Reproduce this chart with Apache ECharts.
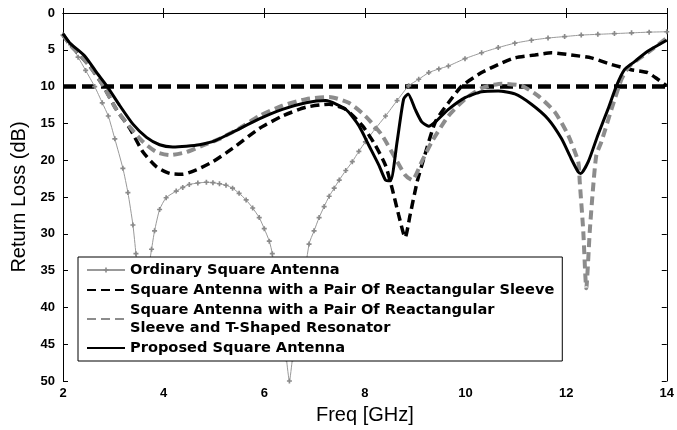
<!DOCTYPE html>
<html><head><meta charset="utf-8">
<script src="https://cdn.jsdelivr.net/npm/echarts@6/dist/echarts.min.js"></script>
<style>html,body{margin:0;padding:0;background:#fff}#c{width:677px;height:430px}</style>
</head><body><div id="c"></div>
<script>
const xTicks = [2, 4, 6, 8, 10, 12, 14];
const yTicks = [0, 5, 10, 15, 20, 25, 30, 35, 40, 45, 50];
const names = [
  'Ordinary Square Antenna',
  'Square Antenna with a Pair Of Reactangular Sleeve',
  'Square Antenna with a Pair Of Reactangular\nSleeve and T-Shaped Resonator',
  'Proposed Square Antenna'
];
const ordinary = [[2,3],[2.15,4.3],[2.3,6],[2.45,7.8],[2.63,10],[2.78,12.2],[2.9,14],[3.03,17.1],[3.19,21.1],[3.29,24.4],[3.39,28.8],[3.45,32.7],[3.57,40],[3.76,32.1],[3.82,29.6],[3.92,26.7],[4.05,25.1],[4.25,24.2],[4.38,23.7],[4.51,23.3],[4.68,23.1],[4.85,23.0],[4.98,23.05],[5.11,23.2],[5.24,23.4],[5.37,23.8],[5.5,24.5],[5.64,25.4],[5.77,26.5],[5.9,27.8],[6.0,29.3],[6.1,31],[6.16,32.7],[6.44,47],[6.5,50],[6.56,47],[6.89,31.4],[6.99,29.6],[7.09,27.8],[7.19,26.3],[7.29,24.9],[7.39,23.8],[7.49,22.7],[7.62,21.4],[7.75,20.2],[7.88,18.8],[8.01,17.5],[8.21,15.7],[8.41,14],[8.64,11.9],[8.87,9.9],[9.07,9.0],[9.27,8.1],[9.47,7.6],[9.66,7.2],[9.99,6.2],[10.32,5.4],[10.65,4.7],[10.98,4.1],[11.31,3.7],[11.64,3.4],[11.97,3.2],[12.3,3.0],[12.63,2.9],[12.96,2.8],[13.3,2.7],[13.65,2.6],[14,2.55]];
const sleeve = [[2,3],[2.14,4.3],[2.53,7.2],[2.8,9.9],[3.06,13.1],[3.33,15.7],[3.59,18.9],[3.86,20.9],[4.12,21.8],[4.38,21.9],[4.65,21.3],[4.98,20.2],[5.37,18.4],[5.9,15.7],[6.36,14.0],[6.83,12.8],[7.29,12.4],[7.62,13.1],[7.95,15.3],[8.21,18],[8.41,20.7],[8.54,23.8],[8.67,27.4],[8.8,30.5],[8.9,27.4],[9.04,22.9],[9.17,19.8],[9.4,14.8],[9.66,12.2],[9.93,9.9],[10.32,8.1],[10.65,7.0],[10.98,6.1],[11.38,5.7],[11.71,5.4],[12.1,5.7],[12.5,6.1],[12.9,7.0],[13.29,7.7],[13.62,8.1],[13.82,9.0],[14,9.9]];
const tshape = [[2,3],[2.14,4.3],[2.53,7.2],[2.8,9.9],[3.06,13.1],[3.33,15.5],[3.59,17.5],[3.86,18.9],[4.12,19.3],[4.45,18.9],[4.78,18],[5.11,17.1],[5.5,15.7],[5.9,14.0],[6.36,12.6],[6.83,11.7],[7.29,11.4],[7.68,12.2],[8.01,14],[8.34,16.6],[8.61,19.8],[8.8,22],[8.94,22.7],[9.13,20.2],[9.33,17.5],[9.66,14],[9.99,11.7],[10.32,10.2],[10.72,9.6],[11.12,9.9],[11.45,11.3],[11.78,13.5],[12.04,16.6],[12.24,20.2],[12.27,22.9],[12.34,29.6],[12.4,37.4],[12.47,29.6],[12.53,24.2],[12.6,19.3],[12.7,17.5],[12.9,13.1],[13.1,9.0],[13.26,7.2],[13.62,5.4],[14,3.4]];
const proposed = [[2,2.8],[2.14,4.1],[2.44,5.9],[2.67,8.1],[2.87,9.9],[3.13,12.6],[3.39,15.1],[3.66,16.9],[3.92,17.9],[4.18,18.2],[4.45,18.1],[4.71,17.9],[5.04,17.3],[5.37,16.2],[5.9,14.4],[6.36,13.1],[6.83,12.2],[7.22,11.9],[7.62,13.1],[7.88,15.3],[8.08,18],[8.28,20.7],[8.41,22.7],[8.51,22.8],[8.64,17.5],[8.77,11.7],[8.86,11.0],[9.0,13.1],[9.13,14.8],[9.27,15.4],[9.4,14.8],[9.66,13.1],[9.99,11.5],[10.32,10.7],[10.65,10.6],[10.98,11.0],[11.31,12.4],[11.64,14.4],[11.91,17.1],[12.1,19.8],[12.24,21.6],[12.29,21.8],[12.44,20.2],[12.63,16.6],[12.83,13.1],[13.0,9.9],[13.16,7.7],[13.36,6.6],[13.62,5.2],[14,3.7]];
const threshold = [[2,10],[14,10]];

const F = "'Liberation Sans', Arial, sans-serif";
const axisBase = {
  type: 'value',
  axisLine: {show: true, lineStyle: {color: '#000', width: 1}},
  axisTick: {show: true, inside: true, length: 5, lineStyle: {color: '#000'}},
  splitLine: {show: false}
};
const chart = echarts.init(document.getElementById('c'), null, {renderer: 'canvas'});
chart.setOption({
  animation: false,
  backgroundColor: '#fff',
  grid: {left: 63, right: 8, top: 13, bottom: 45},
  xAxis: [
    Object.assign({}, axisBase, {
      min: xTicks[0], max: xTicks[xTicks.length-1], interval: 2,
      axisLabel: {color: '#000', fontWeight: 'bold', fontSize: 13, fontFamily: F, margin: 6},
      name: 'Freq [GHz]', nameLocation: 'middle', nameGap: 24,
      nameTextStyle: {fontSize: 20, color: '#000', fontFamily: F}
    }),
    Object.assign({}, axisBase, {
      position: 'top', min: xTicks[0], max: xTicks[xTicks.length-1], interval: 2,
      axisLabel: {show: false}
    })
  ],
  yAxis: [
    Object.assign({}, axisBase, {
      inverse: true, min: yTicks[0], max: yTicks[yTicks.length-1], interval: 5,
      axisLabel: {color: '#000', fontWeight: 'bold', fontSize: 13, fontFamily: F, margin: 8},
      name: 'Return Loss (dB)', nameLocation: 'middle', nameGap: 32,
      nameTextStyle: {fontSize: 20, color: '#000', fontFamily: F}
    }),
    Object.assign({}, axisBase, {
      position: 'right', inverse: true, min: yTicks[0], max: yTicks[yTicks.length-1], interval: 5,
      axisLabel: {show: false}
    })
  ],
  legend: {
    data: [
      {name: names[0]},
      {name: names[1], itemStyle: {opacity: 0}},
      {name: names[2], itemStyle: {opacity: 0}},
      {name: names[3], itemStyle: {opacity: 0}}
    ],
    orient: 'vertical', left: 78, top: 257,
    padding: [4, 8, 4, 8], itemGap: 2, itemWidth: 38, itemHeight: 6,
    borderColor: '#000', borderWidth: 1, borderRadius: 0, backgroundColor: '#fff', z: 10,
    textStyle: {fontFamily: "'DejaVu Sans', sans-serif", fontWeight: 'bold', fontSize: 14.6, lineHeight: 18, color: '#000'}
  },
  series: [
    {name: 'threshold', type: 'line', data: threshold, symbol: 'none', silent: true,
     lineStyle: {color: '#000', width: 4.5, type: [13, 6]}, z: 1},
    {name: names[0], type: 'line', data: ordinary, smooth: 0.2,
     symbol: 'path://M1,0H2V1H3V2H2V3H1V2H0V1H1Z', symbolSize: 5, showSymbol: true,
     itemStyle: {color: '#8a8a8a'}, lineStyle: {color: '#999', width: 1}, z: 2},
    {name: names[1], type: 'line', data: sleeve, smooth: 0.2, symbol: 'none',
     lineStyle: {color: '#000', width: 3.5, type: [9, 5]}, itemStyle: {color: '#000'}, z: 3},
    {name: names[2], type: 'line', data: tshape, smooth: 0.2, symbol: 'none',
     lineStyle: {color: '#8c8c8c', width: 4, type: [9, 5]}, itemStyle: {color: '#8c8c8c'}, z: 3},
    {name: names[3], type: 'line', data: proposed, smooth: 0.2, symbol: 'none',
     lineStyle: {color: '#000', width: 3}, itemStyle: {color: '#000'}, z: 4}
  ]
});
</script></body></html>
